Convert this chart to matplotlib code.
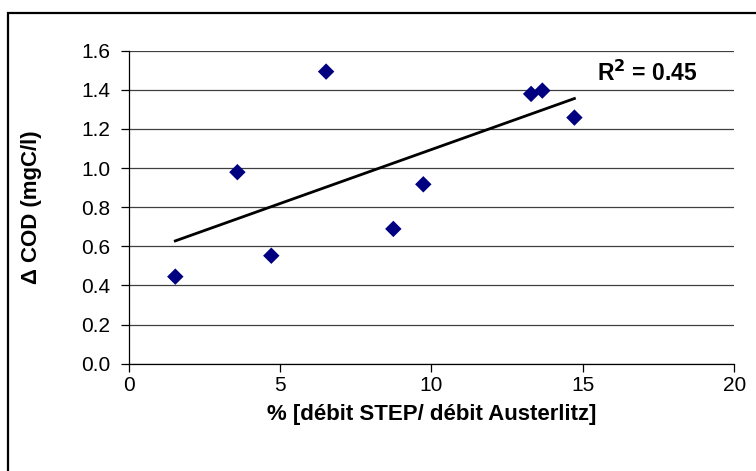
import numpy as np
import matplotlib
matplotlib.use('Agg')
import matplotlib.pyplot as plt
from matplotlib.patches import Rectangle

plt.rcParams['font.family'] = ['Liberation Sans', 'DejaVu Sans']

# % [débit STEP / débit Austerlitz] vs delta COD (mgC/l)
pct_flow = [1.54, 3.59, 4.71, 6.52, 8.74, 9.73, 13.29, 13.66, 14.72]
delta_cod = [0.445, 0.979, 0.552, 1.493, 0.689, 0.917, 1.379, 1.396, 1.258]
r2_label = r'R$^\mathbf{2}$ = 0.45'

fig = plt.figure(figsize=(7.56, 4.71), dpi=100)
ax = fig.add_axes([0.1702, 0.2278, 0.8011, 0.6646])

# outer chart border (cropped on right / bottom like the original)
fig.patches.append(Rectangle((8 / 756, -0.05), 1.0, 1 - 13 / 471 + 0.05,
                             transform=fig.transFigure, fill=False,
                             edgecolor='black', linewidth=1.6))

ax.scatter(pct_flow, delta_cod, marker='D', s=70, color='#000080', zorder=3,
           edgecolors='none')

# linear trendline
slope, intercept = np.polyfit(pct_flow, delta_cod, 1)
xs = np.array([min(pct_flow), max(pct_flow)])
ax.plot(xs, slope * xs + intercept, color='black', linewidth=2.0, zorder=2)

ax.text(15.45, 1.485, r2_label, fontsize=16.5, fontweight='bold', va='center')

ax.set_xlim(0, 20)
ax.set_ylim(0, 1.6)
ax.set_xticks([0, 5, 10, 15, 20])
ax.set_yticks(np.arange(0, 1.61, 0.2))
ax.set_yticklabels([f'{v:.1f}' for v in np.arange(0, 1.61, 0.2)])
ax.yaxis.grid(True, color='#404040', linewidth=0.9)
ax.set_axisbelow(True)

for side in ['top', 'right']:
    ax.spines[side].set_visible(False)
for side in ['left', 'bottom']:
    ax.spines[side].set_linewidth(0.9)

ax.tick_params(axis='both', direction='out', length=6, width=0.9, labelsize=15)
ax.tick_params(axis='y', pad=7)
ax.tick_params(axis='x', pad=3)

ax.set_xlabel('% [débit STEP/ débit Austerlitz]', fontsize=16, fontweight='bold', labelpad=6)
ax.set_ylabel('Δ COD (mgC/l)', fontsize=16, fontweight='bold', labelpad=28)

fig.savefig('out.png', dpi=100)
